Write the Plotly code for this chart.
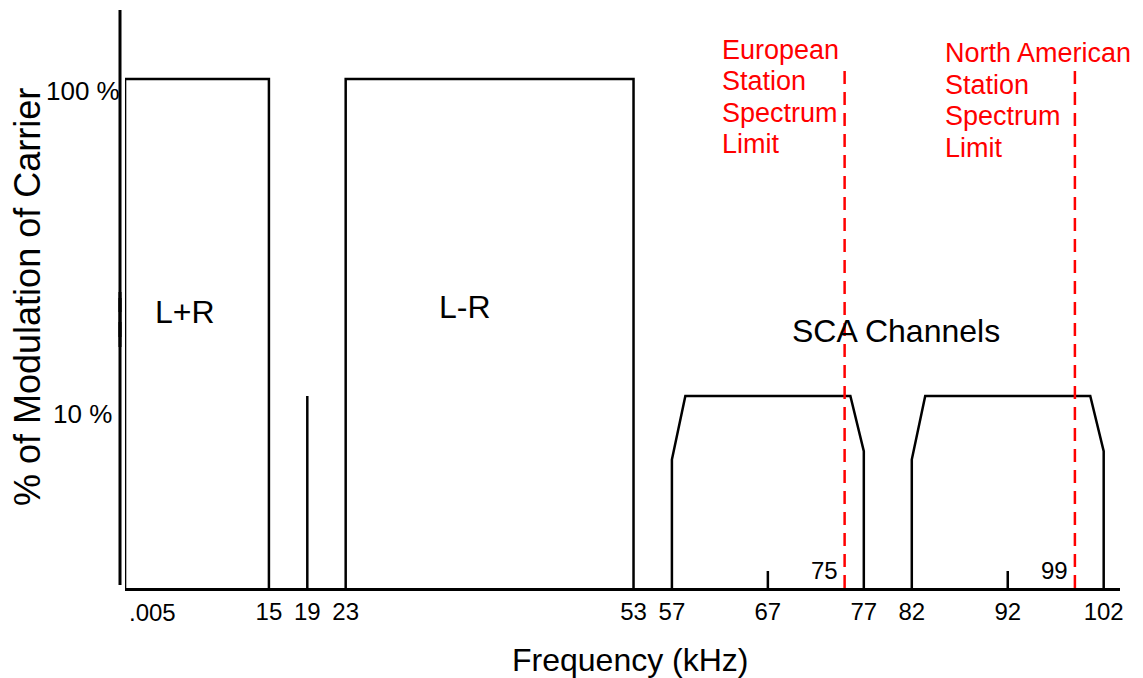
import math
import plotly.graph_objects as go

# ---------------- data ----------------
band_names = ["L+R", "L-R"]
band_start = [0.005, 23]          # kHz
band_end = [15, 53]               # kHz
band_level = [100, 100]           # % modulation

pilot_freq = [19]                 # kHz
pilot_level = [10]                # %

sca_start = [57, 82]              # kHz
sca_flat_start = [58.4, 83.4]
sca_flat_end = [75.6, 100.6]
sca_end = [77, 102]
sca_shoulder_left = [6.3, 6.3]    # %
sca_shoulder_right = [6.7, 6.7]   # %
sca_level = [10, 10]              # %

limit_freq = [75, 99]             # kHz
limit_top = [112, 109]            # %
limit_lines = [["European", "Station", "Spectrum", "Limit"],
               ["North American", "Station", "Spectrum", "Limit"]]

inner_ticks = [67, 92]
x_tick_vals = [15, 19, 23, 53, 57, 67, 77, 82, 92, 102]
x_tick_text = ["15", "19", "23", "53", "57", "67", "77", "82", "92", "102"]
y_tick_vals = [100, 10]
y_tick_text = ["100 %", "10 %"]

# ---------------- layout geometry ----------------
OFF = 8                            # page body margin
W, H = 1143 - OFF, 678 - OFF
L, T = 125 - OFF, 10 - OFF
R = W - (1120 - OFF)
B = H - (588 - OFF)
PW, PH = W - L - R, H - T - B
BASE_PAGE = 588
Y_RANGE = [0.3943, 2.2177]        # log10 of % range
X_RANGE = [0, 103.7]
base = 10 ** Y_RANGE[0]

def px_x(px):
    return (px - OFF - L) / PW

def px_y(py):
    return (BASE_PAGE - py) / PH

FONT = "Liberation Sans, Arial, sans-serif"
BLACK = "black"
RED = "#ff0000"
LW = 2.5

fig = go.Figure()

# L+R and L-R boxes
for s, e, lv in zip(band_start, band_end, band_level):
    fig.add_trace(go.Scatter(x=[s, s, e, e], y=[base, lv, lv, base], mode="lines",
                             line=dict(color=BLACK, width=LW), hoverinfo="skip",
                             showlegend=False))

# pilot
for f, lv in zip(pilot_freq, pilot_level):
    fig.add_trace(go.Scatter(x=[f, f], y=[base, lv], mode="lines",
                             line=dict(color=BLACK, width=LW), hoverinfo="skip",
                             showlegend=False))

# SCA channels
for s, fs, fe, e, sl, sr, lv in zip(sca_start, sca_flat_start, sca_flat_end, sca_end,
                                    sca_shoulder_left, sca_shoulder_right, sca_level):
    fig.add_trace(go.Scatter(x=[s, s, fs, fe, e, e], y=[base, sl, lv, lv, sr, base],
                             mode="lines", line=dict(color=BLACK, width=LW),
                             hoverinfo="skip", showlegend=False))

# inner ticks
for t in inner_ticks:
    fig.add_shape(type="line", xref="x", yref="y domain", x0=t, x1=t, y0=0, y1=17 / PH,
                  line=dict(color=BLACK, width=LW))

# spectrum limits
for f, top in zip(limit_freq, limit_top):
    fig.add_trace(go.Scatter(x=[f, f], y=[base, top], mode="lines",
                             line=dict(color=RED, width=LW, dash="13px,8px"),
                             hoverinfo="skip", showlegend=False))

# broken y axis line
for y0, y1 in [(BASE_PAGE - 3, 292), (298, 312), (322, 337), (347, 10)]:
    fig.add_shape(type="line", xref="paper", yref="paper",
                  x0=px_x(120), x1=px_x(120), y0=px_y(y0), y1=px_y(y1),
                  line=dict(color=BLACK, width=3))

ann = []
# y tick labels
for v, t, sh in zip(y_tick_vals, y_tick_text, [-12, -18]):
    ann.append(dict(x=px_x(82.5), xref="paper", y=math.log10(v), yref="y", text=t,
                    showarrow=False, xanchor="center", yanchor="middle", yshift=sh,
                    font=dict(size=26, color=BLACK)))
# .005 label
ann.append(dict(x=band_start[0], xref="x", y=px_y(612), yref="paper", text=".005",
                showarrow=False, xanchor="left", yanchor="middle", xshift=2,
                font=dict(size=24, color=BLACK)))
# 75 / 99 labels
for f in limit_freq:
    ann.append(dict(x=f, xref="x", y=px_y(570), yref="paper", text=str(f),
                    showarrow=False, xanchor="right", yanchor="middle", xshift=-5,
                    font=dict(size=24, color=BLACK)))
# band labels
for name, (cx, cy) in zip(band_names, [(185, 312), (465, 307)]):
    ann.append(dict(x=px_x(cx), xref="paper", y=px_y(cy), yref="paper", text=name,
                    showarrow=False, xanchor="center", yanchor="middle",
                    font=dict(size=32, color=BLACK)))
ann.append(dict(x=px_x(896), xref="paper", y=px_y(331), yref="paper", text="SCA Channels",
                showarrow=False, xanchor="center", yanchor="middle",
                font=dict(size=32, color=BLACK)))
# limit labels (placed relative to their limit line)
for f, lines, dx, y_first in zip(limit_freq, limit_lines, [-125, -132], [50, 53]):
    for i, line in enumerate(lines):
        ann.append(dict(x=f, xref="x", y=px_y(y_first + 31.5 * i), yref="paper",
                        text=line, showarrow=False, xanchor="left", yanchor="middle",
                        xshift=dx, font=dict(size=27, color=RED)))
# axis titles
ann.append(dict(x=px_x(630), xref="paper", y=px_y(660), yref="paper",
                text="Frequency (kHz)", showarrow=False, xanchor="center",
                yanchor="middle", font=dict(size=32, color=BLACK)))
ann.append(dict(x=px_x(28), xref="paper", y=px_y(297), yref="paper",
                text="% of Modulation of Carrier", showarrow=False, textangle=-90,
                xanchor="center", yanchor="middle", font=dict(size=36, color=BLACK)))

fig.update_layout(
    width=W, height=H,
    margin=dict(l=L, r=R, t=T, b=B, pad=0),
    paper_bgcolor="white", plot_bgcolor="white",
    font=dict(family=FONT, color=BLACK),
    showlegend=False,
    annotations=ann,
    xaxis=dict(range=X_RANGE, showgrid=False, zeroline=False, showline=True,
               linecolor=BLACK, linewidth=LW, ticks="", tickvals=x_tick_vals,
               ticktext=x_tick_text, tickfont=dict(size=24, color=BLACK),
               fixedrange=True),
    yaxis=dict(type="log", range=Y_RANGE, showgrid=False, zeroline=False,
               showline=False, ticks="", showticklabels=False, fixedrange=True),
)

fig.write_html("out.html")
